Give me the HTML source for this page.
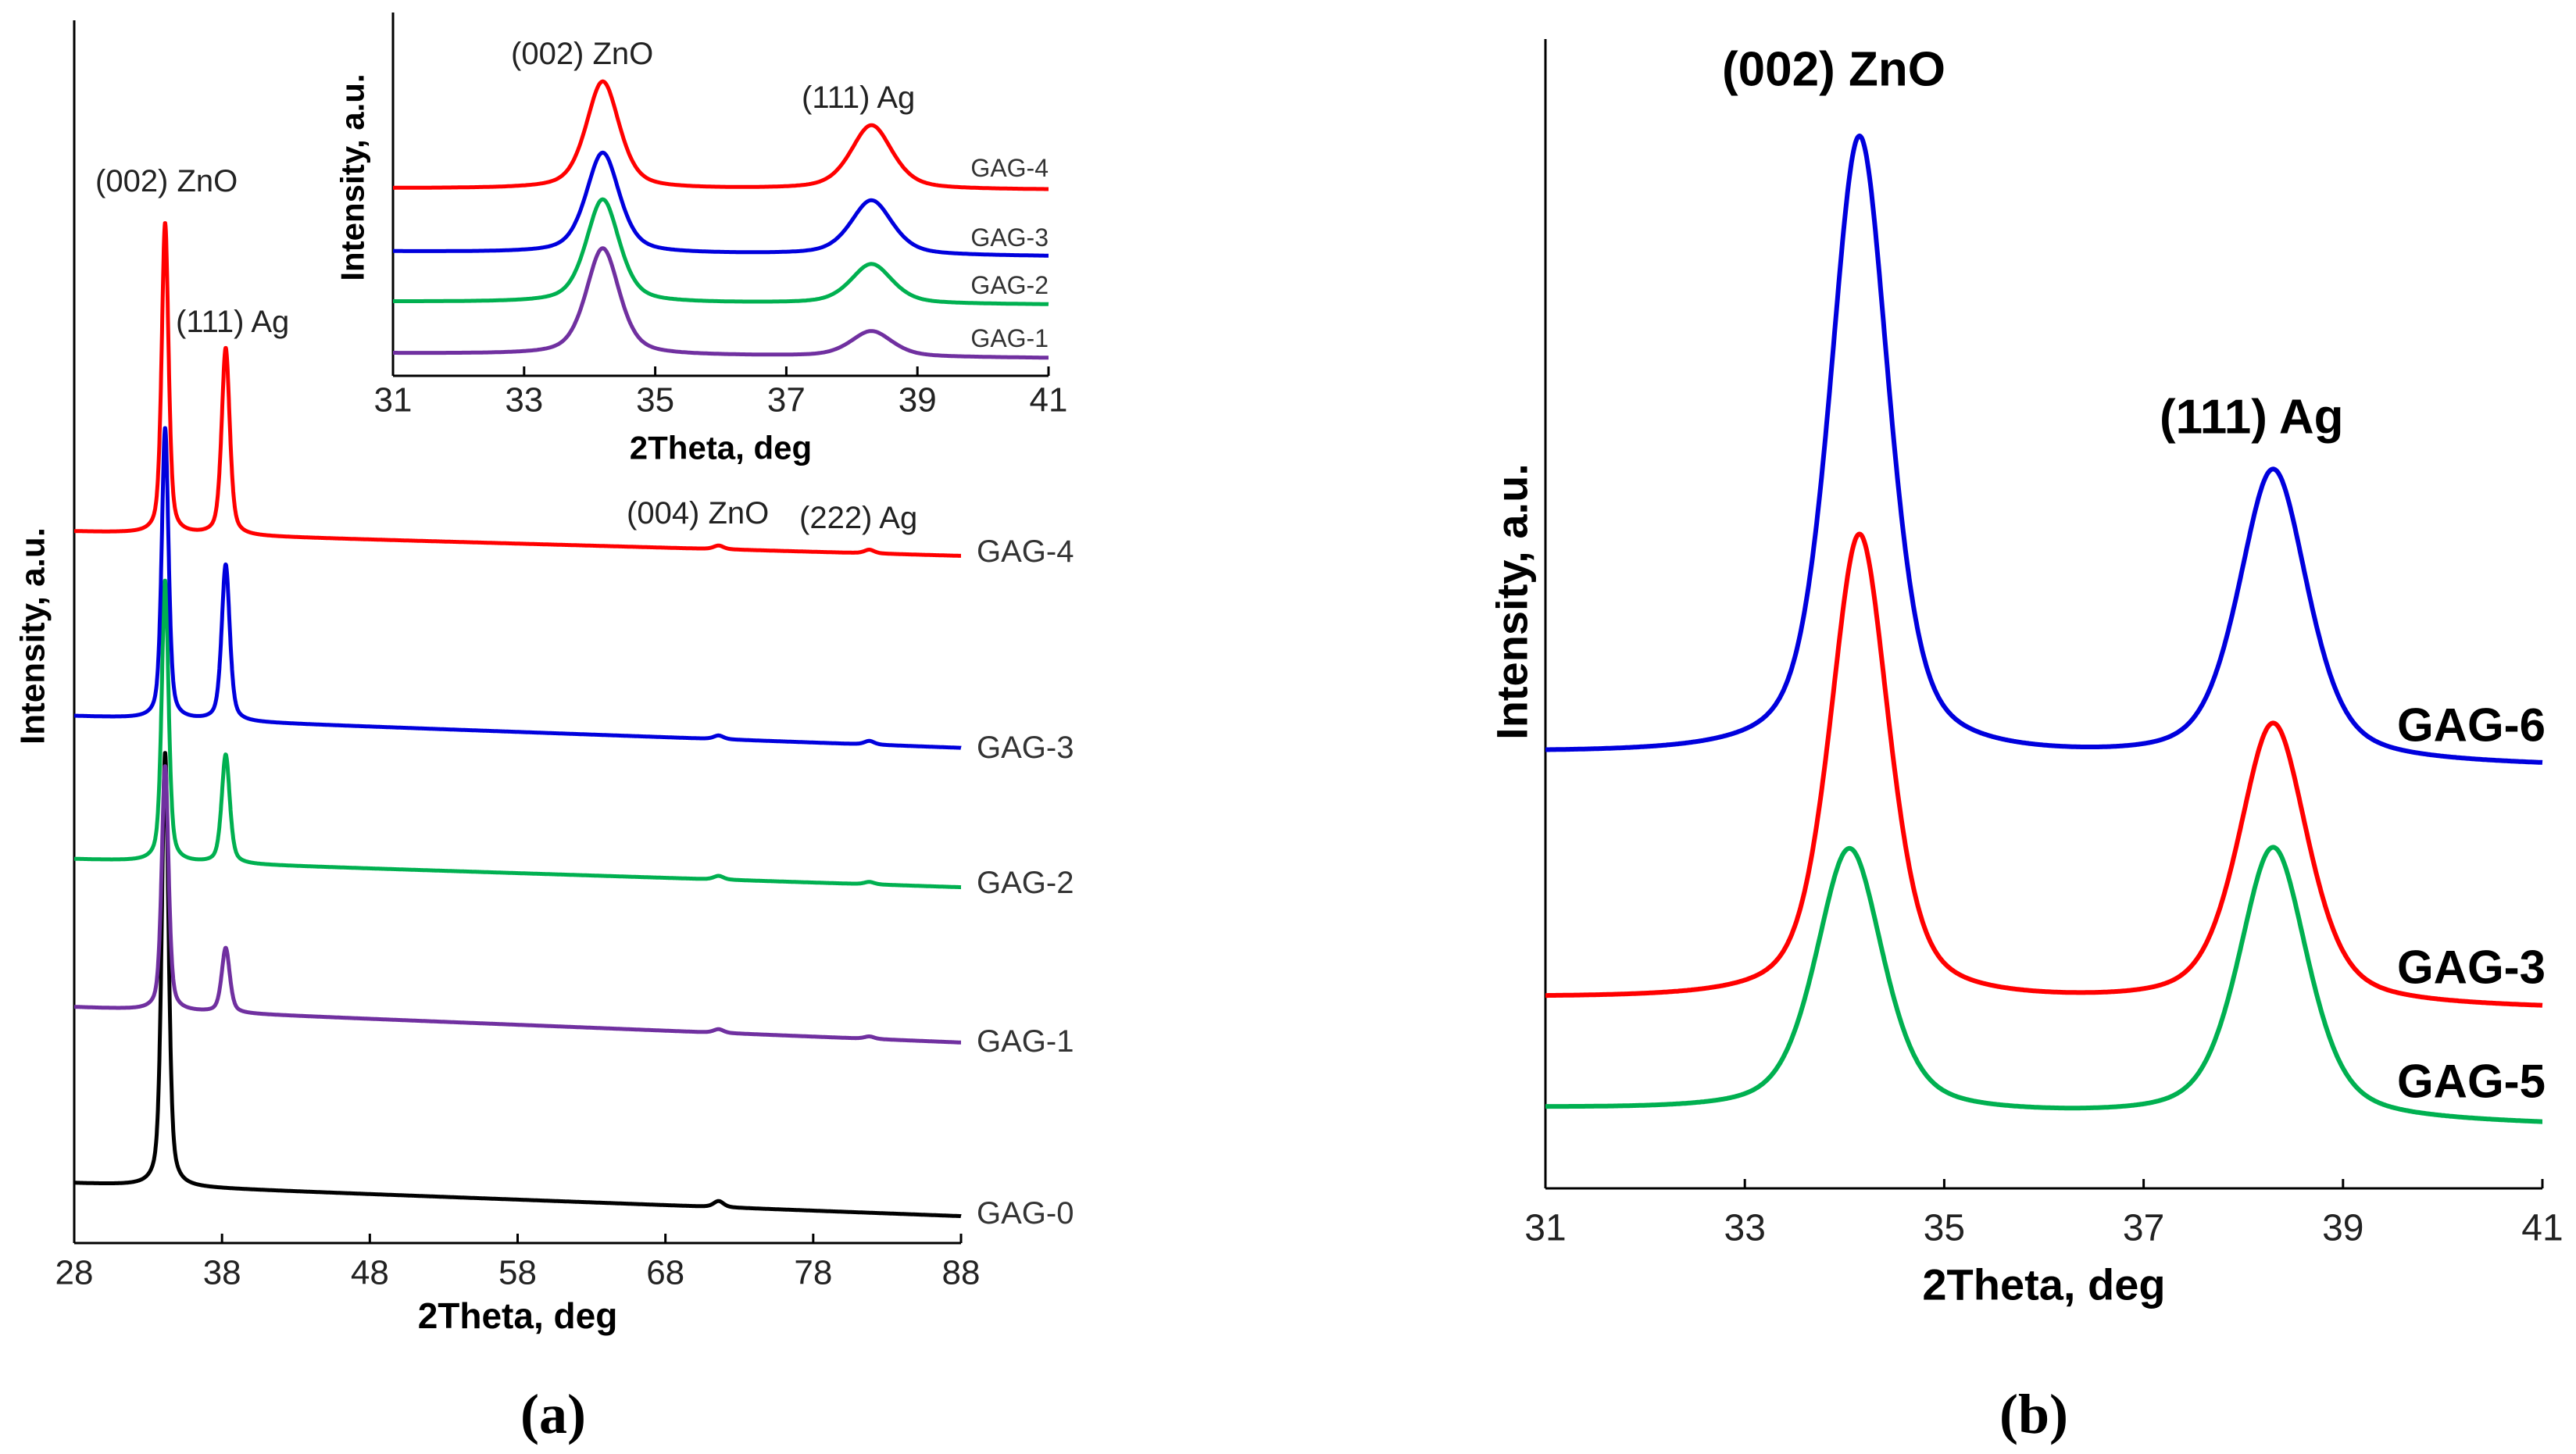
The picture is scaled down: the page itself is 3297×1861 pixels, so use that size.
<!DOCTYPE html>
<html><head><meta charset="utf-8"><style>
html,body{margin:0;padding:0;background:#fff;}
svg{display:block;}
text{font-family:"Liberation Sans",sans-serif;}
</style></head><body>
<svg id="fig" width="3297" height="1861" viewBox="0 0 3297 1861" xmlns="http://www.w3.org/2000/svg">
<g id="static"></g>
</svg>
<script>
// ---- data (peak parameters) ----
// Panel A main
const aSeries = ["GAG-4","GAG-3","GAG-2","GAG-1","GAG-0"];
const aColors = ["#ff0000","#0000dd","#00b050","#7030a0","#000000"];
const aBaseStart = [582,431,314,193,49];
const aBaseEnd = [562,405,291,164,22];
const aZnOHeight = [254,238,230,200,355];
const aAgHeight = [153,128,89,53,0];
const aMinor72 = [3,3,3,3,5];
const aMinor82 = [3,3,2,2,0];
const aXTicks = [28,38,48,58,68,78,88];
// Panel A inset
const iSeries = ["GAG-4","GAG-3","GAG-2","GAG-1"];
const iColors = ["#ff0000","#0000dd","#00b050","#7030a0"];
const iBaseStart = [51.6,34.2,20.4,6.2];
const iBaseEnd = [51.2,32.9,19.6,4.9];
const iZnOHeight = [29.5,27.6,28.4,29.3];
const iAgHeight = [17.6,15.0,10.9,7.0];
const iXTicks = [31,33,35,37,39,41];
// Panel B
const bSeries = ["GAG-6","GAG-3","GAG-5"];
const bColors = ["#0000dd","#ff0000","#00b050"];
const bBaseStart = [37.8,16.5,6.9];
const bBaseEnd = [36.7,15.6,5.5];
const bZnOPos = [34.15,34.15,34.05];
const bZnOHeight = [54,40.6,23.0];
const bZnOWidth = [0.7,0.7,0.8];
const bAgHeight = [25.4,24.5,23.7];
const bXTicks = [31,33,35,37,39,41];

const NS="http://www.w3.org/2000/svg";
const svg=document.getElementById('fig');
function mk(tag,attrs,parent){const e=document.createElementNS(NS,tag);for(const k in attrs)e.setAttribute(k,attrs[k]);(parent||svg).appendChild(e);return e;}
function txt(s,attrs){const e=mk('text',attrs);e.textContent=s;return e;}
function pv(x,c,h,w){const d=(x-c)/(w/2);return h*(0.5/(1+d*d)+0.5*Math.exp(-0.693*d*d));}

function axes(x0,x1,yb,yt,ticks,xs,tickFont,tickY,title,titleFont,titleY,ytitle,ytx,yty,ytFont,pfx){
  let e=mk('line',{x1:x0,y1:yb,x2:x0,y2:yt,stroke:'#000','stroke-width':3});
  
  e=mk('line',{x1:x0,y1:yb,x2:x1,y2:yb,stroke:'#000','stroke-width':3});
  
  ticks.forEach(t=>{
    const tx=xs(t);
    e=mk('line',{x1:tx,y1:yb,x2:tx,y2:yb-12,stroke:'#000','stroke-width':3});
    
    e=txt(String(t),{x:tx,y:tickY,'font-size':tickFont,'text-anchor':'middle','dominant-baseline':'central',fill:'#222'});
    
  });
  e=txt(title,{x:(x0+x1)/2,y:titleY,'font-size':titleFont,'font-weight':'bold','text-anchor':'middle','dominant-baseline':'central'});
  
  e=txt(ytitle,{x:ytx,y:yty,'font-size':ytFont,'font-weight':'bold','text-anchor':'middle','dominant-baseline':'central',transform:`rotate(-90 ${ytx} ${yty})`});
  
}
function curve(xs,ys,xa,xb,step,fn,color,sw,name){
  let d='';
  for(let x=xa;x<=xb+1e-9;x+=step){d+=(d?'L':'M')+xs(x).toFixed(1)+','+ys(fn(x)).toFixed(1);}
  const p=mk('path',{d:d,fill:'none',stroke:color,'stroke-width':sw,'stroke-linejoin':'round'});
  
}

// ---- Panel A main ----
const axs=x=>95+(x-28)/60*(1230-95);
const ays=v=>1591-v*1.565;
axes(95,1230,1591,26,aXTicks,axs,44,1629,'2Theta, deg',46,1684,'Intensity, a.u.',42,814,44,'a-');
for(let i=aSeries.length-1;i>=0;i--){
  const fn=x=>aBaseStart[i]+(aBaseEnd[i]-aBaseStart[i])*(x-28)/60+pv(x,34.15,aZnOHeight[i],0.55)+pv(x,38.25,aAgHeight[i],0.65)+pv(x,71.6,aMinor72[i],0.8)+pv(x,81.8,aMinor82[i],0.8);
  curve(axs,ays,28,88,0.02,fn,aColors[i],5,'a-curve-'+aSeries[i].toLowerCase());
}
const aLabelY=[706,957,1130,1333,1553];
aSeries.forEach((s,i)=>{const e=txt(s,{x:1250,y:aLabelY[i],'font-size':40,'dominant-baseline':'central',fill:'#333'});});
[['(002) ZnO',122,232,'a-annot-002-zno'],['(111) Ag',225,412,'a-annot-111-ag'],['(004) ZnO',802,657,'a-annot-004-zno'],['(222) Ag',1023,663,'a-annot-222-ag']].forEach(a=>{const e=txt(a[0],{x:a[1],y:a[2],'font-size':40,'dominant-baseline':'central',fill:'#222'});});

// ---- Panel A inset ----
const ixs=x=>503+(x-31)/10*(1342-503);
const iys=v=>481-v*4.65;
axes(503,1342,481,16,iXTicks,ixs,44,512,'2Theta, deg',42,573,'Intensity, a.u.',451,227,42,'inset-');
for(let i=iSeries.length-1;i>=0;i--){
  const fn=x=>iBaseStart[i]+(iBaseEnd[i]-iBaseStart[i])*(x-31)/10+pv(x,34.2,iZnOHeight[i],0.6)+pv(x,38.3,iAgHeight[i],0.75);
  curve(ixs,iys,31,41,0.02,fn,iColors[i],5,'inset-curve-'+iSeries[i].toLowerCase());
}
const iLabelY=[215,304,365,433];
iSeries.forEach((s,i)=>{const e=txt(s,{x:1342,y:iLabelY[i],'font-size':32,'text-anchor':'end','dominant-baseline':'central',fill:'#333'});});
[['(002) ZnO',654,69,'inset-annot-002-zno'],['(111) Ag',1026,125,'inset-annot-111-ag']].forEach(a=>{const e=txt(a[0],{x:a[1],y:a[2],'font-size':40,'dominant-baseline':'central',fill:'#222'});});

// ---- Panel B ----
const bxs=x=>1978+(x-31)/10*(3254-1978);
const bys=v=>1521-v*14.71;
axes(1978,3254,1521,50,bXTicks,bxs,48,1572,'2Theta, deg',56,1644,'Intensity, a.u.',1935,770,56,'b-');
for(let i=bSeries.length-1;i>=0;i--){
  const fn=x=>bBaseStart[i]+(bBaseEnd[i]-bBaseStart[i])*(x-31)/10+pv(x,bZnOPos[i],bZnOHeight[i],bZnOWidth[i])+pv(x,38.3,bAgHeight[i],0.82);
  curve(bxs,bys,31,41,0.01,fn,bColors[i],6,'b-curve-'+bSeries[i].toLowerCase());
}
const bLabelY=[928,1238,1384];
bSeries.forEach((s,i)=>{const e=txt(s,{x:3258,y:bLabelY[i],'font-size':60,'font-weight':'bold','text-anchor':'end','dominant-baseline':'central'});});
[['(002) ZnO',2204,89,'b-annot-002-zno'],['(111) Ag',2764,534,'b-annot-111-ag']].forEach(a=>{const e=txt(a[0],{x:a[1],y:a[2],'font-size':62,'font-weight':'bold','dominant-baseline':'central'});});

// panel captions
[['(a)',708,'caption-a'],['(b)',2603,'caption-b']].forEach(a=>{const e=txt(a[0],{x:a[1],y:1810,'font-size':72,'font-weight':'bold','text-anchor':'middle','dominant-baseline':'central',style:'font-family:"Liberation Serif",serif'});});
</script>
</body></html>
